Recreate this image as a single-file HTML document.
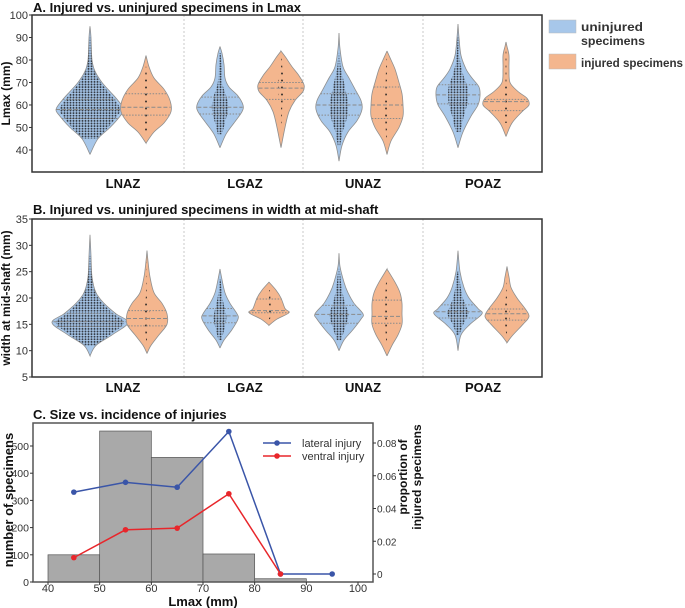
<!DOCTYPE html>
<html><head><meta charset="utf-8">
<style>
body{margin:0;background:#fff;}
svg{display:block;font-family:"Liberation Sans",Arial,sans-serif;}
</style></head>
<body>
<svg id="fig" width="685" height="608" viewBox="0 0 685 608">
<defs>
<pattern id="dots" width="3" height="2.6" patternUnits="userSpaceOnUse"><circle cx="1.5" cy="1.3" r="1" fill="#2b2f36"/></pattern>
<pattern id="sparse" width="4" height="7" patternUnits="userSpaceOnUse"><circle cx="2" cy="3.5" r="1" fill="#222"/></pattern>
</defs>
<g id="panelA"></g>
<g id="panelB"></g>
<g id="panelC"></g>
</svg>
<script>
// ---------- DATA ----------
const categories = ["LNAZ","LGAZ","UNAZ","POAZ"];
const catLabelX = [123,245,363,483];
const violinCenters = [[90,146],[220,281],[339,387],[458,506]];
const violinCentersB = [[90,147],[220,269],[339,387],[458,507]];
const lmaxUninjured = [
 [[38,0],[45,8],[50,20],[55,30],[58,34],[62,28],[66,20],[70,12],[75,5],[80,2],[90,1],[95,0]],
 [[41,0],[47,6],[52,14],[57,22],[60,23],[64,18],[68,9],[72,5],[78,4],[83,2],[86,0]],
 [[35,0],[42,3],[48,9],[53,18],[58,23],[62,22],[67,16],[72,10],[77,4],[85,1],[92,0]],
 [[41,0],[48,5],[55,13],[60,20],[64,22],[68,21],[72,14],[76,8],[82,3],[90,1],[96,0]]];
const lmaxInjured = [
 [[43,0],[48,8],[52,18],[57,25],[62,24],[67,18],[72,8],[77,3],[82,0]],
 [[41,0],[50,4],[57,8],[62,14],[66,22],[69,23],[73,18],[77,11],[81,5],[84,0]],
 [[38,0],[44,4],[50,12],[55,16],[60,16],[65,15],[70,12],[76,8],[81,3],[84,0]],
 [[46,0],[52,6],[57,16],[60,23],[63,21],[66,12],[70,4],[76,3],[82,3],[86,1],[88,0]]];
const lmaxQuartU = [[54,58,62.5],[56,59,63.5],[55.5,60,65],[60.5,64.5,69]];
const lmaxQuartI = [[55.5,59,65],[62.5,67.5,70],[54,60,68],[57.5,61.5,62.5]];
const widthUninjured = [
 [[9,0],[11,6],[13,22],[15.3,38],[17,26],[19,14],[21,6],[24,2],[28,1],[32,0]],
 [[10.5,0],[12,4],[14,12],[16,18],[17,17],[19,10],[21,5],[23.5,2],[25.5,0]],
 [[10,0],[12,5],[14,14],[16,22],[17,24],[19,15],[21,9],[23,5],[26,1],[28.5,0]],
 [[10,0],[13,3],[15,12],[17,24],[18,20],[20,11],[22,6],[25,2],[29,0]]];
const widthInjured = [
 [[9.5,0],[11,4],[13,12],[15,20],[17,20],[19,15],[21,7],[24,3],[27,1],[29,0]],
 [[14.8,0],[16,8],[17.2,20],[18,16],[20,12],[21.5,7],[23,0]],
 [[9,0],[11,5],[13,11],[15,15],[17,15],[19,15],[21,13],[23,8],[25.5,0]],
 [[11.5,0],[13,6],[15,16],[16.5,22],[18,18],[20,10],[22,4],[24,2],[26,0]]];
const widthQuartU = [[14.6,15.5,17],[15.3,16.6,18],[15.2,16.9,18.6],[16.2,17.4,18.7]];
const widthQuartI = [[14.7,16.1,17.6],[17.2,17.6,19.8],[15.2,16.5,19.6],[15.8,17,17.9]];
const dotFactorU = [0.9,0.35,0.4,0.45];
const ticksA = [40,50,60,70,80,90,100];
const ticksB = [5,10,15,20,25,30,35];
const binEdges = [40,50,60,70,80,90];
const binCounts = [100,555,458,103,12];
const lineX = [45,55,65,75,85,95];
const lateral = [0.050,0.056,0.053,0.087,0,0];
const ventral = [0.010,0.027,0.028,0.049,0];
const ticksCx = [40,50,60,70,80,90,100];
const ticksCy = [0,100,200,300,400,500];
const ticksCy2 = [0,0.02,0.04,0.06,0.08];

const NS="http://www.w3.org/2000/svg";
function mk(tag,attrs,parent,text){const e=document.createElementNS(NS,tag);for(const k in attrs)e.setAttribute(k,attrs[k]);if(text!==undefined)e.textContent=text;parent.appendChild(e);return e;}

function crPath(pts){
  let d="M"+pts[0][0]+","+pts[0][1];
  for(let i=0;i<pts.length-1;i++){
    const p0=pts[Math.max(0,i-1)],p1=pts[i],p2=pts[i+1],p3=pts[Math.min(pts.length-1,i+2)];
    const c1=[p1[0]+(p2[0]-p0[0])/6,p1[1]+(p2[1]-p0[1])/6];
    const c2=[p2[0]-(p3[0]-p1[0])/6,p2[1]-(p3[1]-p1[1])/6];
    d+=" C"+c1[0].toFixed(1)+","+c1[1].toFixed(1)+" "+c2[0].toFixed(1)+","+c2[1].toFixed(1)+" "+p2[0].toFixed(1)+","+p2[1].toFixed(1);
  }
  return d;
}
function violinPath(knots,cx,ys,f){
  const right=knots.slice().reverse().map(k=>[cx+k[1]*f,ys(k[0])]);
  const left=knots.map(k=>[cx-k[1]*f,ys(k[0])]);
  return crPath(right)+" L"+crPath(left).slice(1)+" Z";
}
function hwAt(knots,v){
  for(let i=0;i<knots.length-1;i++){if(v>=knots[i][0]&&v<=knots[i+1][0]){const t=(v-knots[i][0])/(knots[i+1][0]-knots[i][0]);return knots[i][1]+t*(knots[i+1][1]-knots[i][1]);}}
  return 0;
}

function violinPanel(g,cfg){
  const {top,bottom,left,right,vmin,vmax,ticks,U,I,QU,QI,centers,title,ylabel,titleY,labelY,ylabelX}=cfg;
  const ys=v=>bottom-(v-vmin)/(vmax-vmin)*(bottom-top);
  let t=mk('text',{x:33,y:titleY,'font-size':13,'font-weight':'bold',fill:'#111'},g,title);
  
  [184,303,423].forEach(x=>{const l=mk('line',{x1:x,x2:x,y1:top,y2:bottom,stroke:'#bbb','stroke-width':0.8,'stroke-dasharray':'2,2'},g);
    });
  for(let c=0;c<4;c++){
    [[U[c],QU[c],'#a7c7ea',centers[c][0],dotFactorU[c],'url(#dots)','uninjured'],[I[c],QI[c],'#f4b68e',centers[c][1],0.12,'url(#sparse)','injured']].forEach(([kn,q,col,cx,df,pat,nm])=>{
      const p=mk('path',{d:violinPath(kn,cx,ys,1),fill:col,stroke:'#8f8f8f','stroke-width':0.8},g);
      
      
      const dp=mk('path',{d:violinPath(kn.slice(1,-1),cx,ys,df),fill:pat,opacity:0.9},g);
      
      
      q.forEach((v,i)=>{const hw=hwAt(kn,v);const y=ys(v);
        const l=mk('line',{x1:cx-hw,x2:cx+hw,y1:y,y2:y,stroke:'#8a8a8a','stroke-width':1,'stroke-dasharray':i==1?'4,2':'1.5,1.5'},g);
        });
    });
    const lb=mk('text',{x:catLabelX[c],y:labelY,'font-size':13,'font-weight':'bold','text-anchor':'middle',fill:'#111'},g,categories[c]);
    
  }
  const box=mk('rect',{x:left,y:top,width:right-left,height:bottom-top,fill:'none',stroke:'#333','stroke-width':1.5},g);
  
  ticks.forEach(v=>{const y=ys(v);mk('line',{x1:left-3,x2:left,y1:y,y2:y,stroke:'#333'},g);
    const tt=mk('text',{x:left-4,y:y+4,'font-size':11,'text-anchor':'end',fill:'#333'},g,v);
    });
  const yl=mk('text',{x:0,y:0,'font-size':12,'font-weight':'bold','text-anchor':'middle',fill:'#111',transform:`translate(${ylabelX},${(top+bottom)/2}) rotate(-90)`},g,ylabel);
  
}

violinPanel(document.getElementById('panelA'),{top:15,bottom:172,left:32,right:542,vmin:30.2,vmax:100,ticks:ticksA,U:lmaxUninjured,I:lmaxInjured,QU:lmaxQuartU,QI:lmaxQuartI,centers:violinCenters,title:"A. Injured vs. uninjured specimens in Lmax",ylabel:"Lmax (mm)",titleY:12,labelY:188,ylabelX:10});
violinPanel(document.getElementById('panelB'),{top:219,bottom:377,left:32,right:542,vmin:5,vmax:35,ticks:ticksB,U:widthUninjured,I:widthInjured,QU:widthQuartU,QI:widthQuartI,centers:violinCentersB,title:"B. Injured vs. uninjured specimens in width at mid-shaft",ylabel:"width at mid-shaft (mm)",titleY:214,labelY:392,ylabelX:10});

const gA=document.getElementById('panelA');
let sw=mk('rect',{x:549,y:20,width:27,height:13,fill:'#a7c7ea',stroke:'#bbb','stroke-width':0.5},gA);

let lt=mk('text',{x:581,y:31,'font-size':12,'font-weight':'bold',fill:'#333',textLength:62,lengthAdjust:'spacingAndGlyphs'},gA,'uninjured');

mk('text',{x:581,y:45,'font-size':12,'font-weight':'bold',fill:'#333',textLength:64,lengthAdjust:'spacingAndGlyphs'},gA,'specimens');
sw=mk('rect',{x:549,y:54,width:27,height:15,fill:'#f4b68e',stroke:'#bbb','stroke-width':0.5},gA);

lt=mk('text',{x:581,y:67,'font-size':12,'font-weight':'bold',fill:'#333',textLength:102,lengthAdjust:'spacingAndGlyphs'},gA,'injured specimens');


(function(){
  const g=document.getElementById('panelC');
  const L=33,R=373,T=423,B=582;
  const xs=v=>48+(v-40)*(358-48)/60;
  const yl=v=>582-v*(582-446)/500;
  const yr=v=>574-v*(574-443)/0.08;
  mk('text',{x:33,y:419,'font-size':13,'font-weight':'bold',fill:'#111'},g,'C. Size vs. incidence of injuries');
  for(let i=0;i<binCounts.length;i++){
    const r=mk('rect',{x:xs(binEdges[i]),y:yl(binCounts[i]),width:xs(binEdges[i+1])-xs(binEdges[i]),height:yl(0)-yl(binCounts[i]),fill:'#a9a9a9',stroke:'#555','stroke-width':0.7},g);
    
    
  }
  function series(vals,col,nm){
    const pts=vals.map((v,i)=>[xs(lineX[i]),yr(v)]);
    const pl=mk('polyline',{points:pts.map(p=>p.join(',')).join(' '),fill:'none',stroke:col,'stroke-width':1.5},g);
    
    
    pts.forEach(p=>{const c=mk('circle',{cx:p[0],cy:p[1],r:2.8,fill:col},g);
      
      });
  }
  series(lateral,'#3a55a8','lateral-injury');
  series(ventral,'#e8262b','ventral-injury');
  const box=mk('rect',{x:L,y:T,width:R-L,height:B-T,fill:'none',stroke:'#555','stroke-width':1.5},g);
  
  ticksCx.forEach(v=>{mk('line',{x1:xs(v),x2:xs(v),y1:B,y2:B+3,stroke:'#333'},g);
    const t=mk('text',{x:xs(v),y:B+10,'font-size':11,'text-anchor':'middle',fill:'#333'},g,v);
    });
  ticksCy.forEach(v=>{mk('line',{x1:L-3,x2:L,y1:yl(v),y2:yl(v),stroke:'#333'},g);
    const t=mk('text',{x:L-4,y:yl(v)+4,'font-size':10.5,'text-anchor':'end',fill:'#333'},g,v);
    });
  ticksCy2.forEach(v=>{mk('line',{x1:R,x2:R+3,y1:yr(v),y2:yr(v),stroke:'#333'},g);
    const t=mk('text',{x:R+4,y:yr(v)+4,'font-size':10,fill:'#333'},g,v);
    });
  let t=mk('text',{x:203,y:606,'font-size':13,'font-weight':'bold','text-anchor':'middle',fill:'#111'},g,'Lmax (mm)');
  
  t=mk('text',{x:0,y:0,'font-size':13,'font-weight':'bold','text-anchor':'middle',fill:'#111',transform:'translate(13,500) rotate(-90)'},g,'number of specimens');
  
  t=mk('text',{x:0,y:0,'font-size':12,'font-weight':'bold','text-anchor':'middle',fill:'#111',transform:'translate(407,477) rotate(-90)'},g,'proportion of');
  
  mk('text',{x:0,y:0,'font-size':12,'font-weight':'bold','text-anchor':'middle',fill:'#111',transform:'translate(421,477) rotate(-90)'},g,'injured specimens');
  [['lateral injury','#3a55a8',443],['ventral injury','#e8262b',456]].forEach(([lab,col,y])=>{
    mk('line',{x1:263,x2:291,y1:y,y2:y,stroke:col,'stroke-width':1.5},g);
    mk('circle',{cx:277,cy:y,r:2.8,fill:col},g);
    const tt=mk('text',{x:302,y:y+4,'font-size':11,fill:'#333'},g,lab);
    
  });
})();
</script>
</body></html>
